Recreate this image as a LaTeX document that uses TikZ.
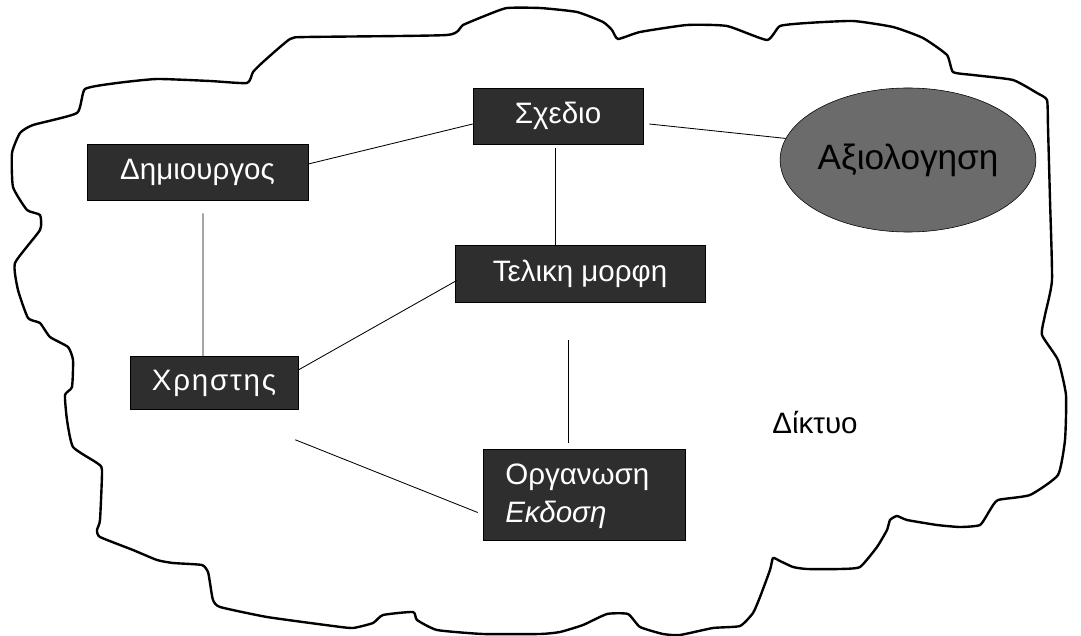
\documentclass[tikz,border=0pt]{standalone}
\usepackage{fontspec}
\setmainfont{Liberation Sans}
\newfontfamily\spacedfont[LetterSpace=6]{Liberation Sans}
\usetikzlibrary{calc,shapes.geometric}
\begin{document}
\begin{tikzpicture}[x=0.025cm,y=-0.025cm,
  box/.style={draw=black, fill=black!82, text=white, inner sep=0pt, font=\fontsize{21}{25}\selectfont},
  link/.style={draw=black, line width=0.6pt},
  cloudline/.style={line width=1.7pt, line join=round}]
\useasboundingbox (0,0) rectangle (1081,636);
% cloud outline
\draw[cloudline] plot[smooth cycle, tension=0.3] coordinates {
(20,133) (33,125) (77,113) (85,89) (117,83) (157,79) (210,81) (247,83) (253,72) (263,62) (290,39) (307,37) (447,35) (463,25) (487,15) (507,8) (540,8) (577,12) (603,22) (612,30) (618,39) (640,32) (687,25) (727,26) (767,40) (780,26) (807,23) (853,21) (893,27) (923,38) (947,55) (953,72) (973,75) (1013,80) (1037,93) (1047,100) (1048,127)
(1050,200) (1052,280) (1045,315) (1042,335) (1058,360) (1066,395) (1065,440) (1058,475) (1030,495) (998,500)
(990,510) (980,525) (960,527) (937,525) (907,520) (897,516) (890,520) (887,530) (877,547) (860,567) (840,569) (807,569) (793,567) (780,561) (773,558) (770,570) (760,597) (753,613) (740,626) (713,628) (680,635) (663,634) (640,627) (628,614) (607,614) (583,625) (560,632) (540,634) (483,634) (437,630) (417,620) (413,612) (383,615) (373,623) (353,628) (333,626) (267,617) (220,607) (213,600) (210,583) (208,572) (202,565) (173,563) (157,560) (133,550) (100,537) (97,530) (100,520) (102,470) (97,463) (73,447) (67,420) (65,395) (72,387) (73,360) (68,347) (50,337) (40,323) (28,318) (18,290) (15,263) (40,230) (40,215) (27,210) (13,187) (12,153)};
% nodes
\node[box, minimum width=5.525cm, minimum height=1.4cm] (dem) at (197.5,172) {Δημιουργος\hspace{0.675cm}};
\node[box, minimum width=4.25cm, minimum height=1.4cm] (sch) at (558,116) {Σχεδιο};
\node[box, minimum width=6.25cm, minimum height=1.425cm] (tel) at (580,273.5) {Τελικη μορφη};
\node[box, minimum width=4.2cm, minimum height=1.325cm] (chr) at (214,383) {\spacedfont Χρηστης};
\node[box, minimum width=5.05cm, minimum height=2.275cm] (org) at (584,494.5) {};
\node[anchor=west, text=white, font=\fontsize{21}{25}\selectfont, align=left, inner sep=0pt] (orgtext) at (505,496) {Οργανωση\\[2pt]\textit{Εκδοση}};
\node[ellipse, draw=black, fill=black!58, inner sep=0pt, minimum width=5.8cm, minimum height=3.6cm, font=\fontsize{25}{29}\selectfont] (ell) at (908,160) {Αξιολογηση};
\node[font=\fontsize{21}{25}\selectfont, inner sep=0pt] (net) at (815,423) {Δίκτυο};
% connectors
\draw[link] ($(dem.east)+(0,-8)$) -- ($(sch.west)+(0,8)$);
\draw[link] ($(sch.east)+(6,8)$) -- (ell.170);
\draw[link] ($(sch.south)+(-3,4)$) -- ($(tel.north)+(-25,0)$);
\draw[link] ($(dem.south)+(5.5,13)$) -- ($(chr.north)+(-11,0)$);
\draw[link] ($(tel.west)+(2,7)$) -- ($(chr.east)+(0,-13)$);
\draw[link] ($(tel.south)+(-12,38)$) -- ($(org.north)+(-16,-6)$);
\draw[link] ($(chr.south east)+(-3,30)$) -- ($(org.west)+(-5,18)$);
\end{tikzpicture}
\end{document}
